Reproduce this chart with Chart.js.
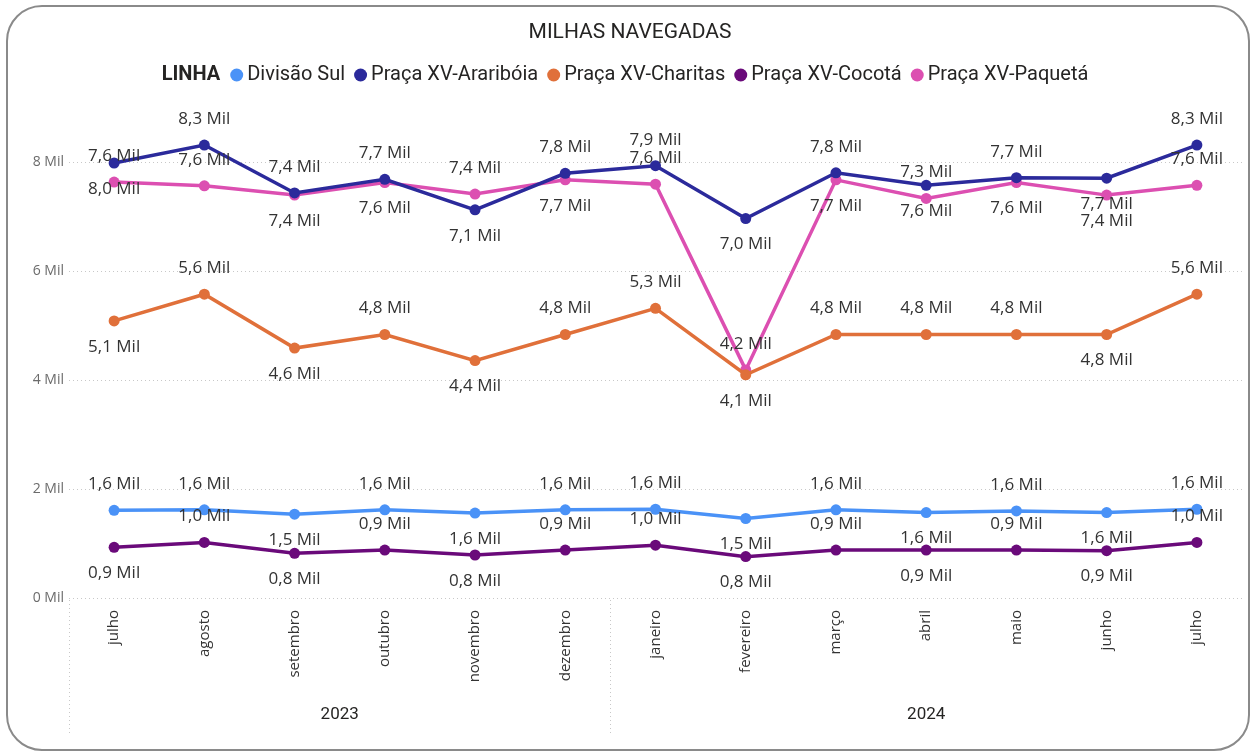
<!DOCTYPE html>
<html>
<head>
<meta charset="utf-8">
<script src="https://cdn.jsdelivr.net/npm/chart.js@4.4.1/dist/chart.umd.min.js"></script>
<style>
  html, body { margin: 0; padding: 0; background: #ffffff; }
  #wrap { position: relative; width: 1250px; height: 753px; }
  #frame { position: absolute; left: 6px; top: 5px; width: 1244px; height: 746px; box-sizing: border-box;
           border: 2px solid #8a8a8a; border-radius: 36px; pointer-events: none; }
</style>
</head>
<body>
<div id="wrap">
  <canvas id="c" width="1250" height="753"></canvas>
  <div id="frame"></div>
</div>
<script>
// ---- Data (values in thousands of miles, "Mil") ----
const months = ['julho','agosto','setembro','outubro','novembro','dezembro','janeiro','fevereiro','março','abril','maio','junho','julho'];
const monthYears = ['2023','2023','2023','2023','2023','2023','2024','2024','2024','2024','2024','2024','2024'];
const years = ['2023','2024'];
const seriesNames = ['Divisão Sul','Praça XV-Araribóia','Praça XV-Charitas','Praça XV-Cocotá','Praça XV-Paquetá'];
const divisaoSul = [1.61,1.62,1.54,1.62,1.56,1.62,1.63,1.46,1.62,1.57,1.60,1.57,1.63];
const arariboia  = [7.99,8.32,7.44,7.69,7.13,7.80,7.94,6.97,7.81,7.58,7.72,7.71,8.32];
const charitas   = [5.09,5.58,4.59,4.84,4.36,4.84,5.32,4.10,4.84,4.84,4.84,4.84,5.58];
const cocota     = [0.93,1.02,0.82,0.88,0.79,0.88,0.97,0.76,0.88,0.88,0.88,0.87,1.02];
const paqueta    = [7.64,7.57,7.40,7.63,7.42,7.68,7.60,4.19,7.68,7.34,7.63,7.40,7.58];
const yTicks = [0,2,4,6,8];
const titleText = 'MILHAS NAVEGADAS';
const legendTitle = 'LINHA';

// ---- Styles ----
const colors = ['#4A92F7','#2B2A9B','#E0703A','#6A0A7A','#DC4FB1'];
// label placement above ('a') or below ('b') each point, per series
const placement = [
  'aababaabababa', // Divisão Sul
  'baaabaabababa', // Araribóia
  'bababaabaaaba', // Charitas
  'bababaabababa', // Cocotá
  'aabbabaababba'  // Paquetá
];
const fmt = v => v.toFixed(1).replace('.', ',') + ' Mil';

const allSeries = [divisaoSul, arariboia, charitas, cocota, paqueta];
const datasets = allSeries.map((d, i) => ({
  label: seriesNames[i],
  data: d,
  borderColor: colors[i],
  backgroundColor: colors[i],
  pointBackgroundColor: colors[i],
  pointBorderColor: colors[i],
  borderWidth: 3.5,
  pointRadius: 5.5,
  pointBorderWidth: 0,
  tension: 0
}));

const decorPlugin = {
  id: 'decor',
  afterDraw(chart) {
    const ctx = chart.ctx;
    ctx.save();
    // Title
    ctx.fillStyle = '#252423';
    ctx.font = '21px Roboto';
    ctx.textAlign = 'center';
    ctx.textBaseline = 'middle';
    ctx.fillText(titleText, 630, 33);

    // Legend
    const ly = 75, r = 6.5, gapMarker = 4, gapItem = 9;
    ctx.font = 'bold 20px Roboto';
    const wTitle = ctx.measureText(legendTitle).width;
    ctx.font = '20px Roboto';
    const wItems = seriesNames.map(n => ctx.measureText(n).width);
    let total = wTitle + 10;
    wItems.forEach(w => total += 2 * r + gapMarker + w + gapItem);
    total -= gapItem;
    let x = 625 - total / 2;
    ctx.textAlign = 'left';
    ctx.font = 'bold 20px Roboto';
    ctx.fillStyle = '#252423';
    ctx.fillText(legendTitle, x, ly);
    x += wTitle + 10;
    ctx.font = '20px Roboto';
    seriesNames.forEach((n, i) => {
      ctx.fillStyle = colors[i];
      ctx.beginPath();
      ctx.arc(x + r, ly, r, 0, Math.PI * 2);
      ctx.fill();
      x += 2 * r + gapMarker;
      ctx.fillStyle = '#252423';
      ctx.fillText(n, x, ly);
      x += wItems[i] + gapItem;
    });

    // Year groups and separators
    const xs = chart.scales.x;
    const area = chart.chartArea;
    const step = xs.getPixelForValue(1) - xs.getPixelForValue(0);
    ctx.strokeStyle = '#c8c8c8';
    ctx.lineWidth = 1;
    ctx.setLineDash([1, 3]);
    const bounds = [];
    years.forEach(y => {
      const idx = monthYears.map((m, k) => m === y ? k : -1).filter(k => k >= 0);
      const left = xs.getPixelForValue(idx[0]) - step / 2;
      const right = xs.getPixelForValue(idx[idx.length - 1]) + step / 2;
      bounds.push([left, right]);
    });
    bounds.forEach(b => {
      const sx = Math.round(b[0]) + 0.5;
      ctx.beginPath();
      ctx.moveTo(sx, area.bottom + 2);
      ctx.lineTo(sx, 735);
      ctx.stroke();
    });
    ctx.setLineDash([]);
    ctx.fillStyle = '#252423';
    ctx.font = '17px Roboto';
    ctx.textAlign = 'center';
    years.forEach((y, i) => {
      ctx.fillText(y, (bounds[i][0] + bounds[i][1]) / 2, 715);
    });
    ctx.restore();
  },
  afterDatasetsDraw(chart) {
    const ctx = chart.ctx;
    ctx.save();
    ctx.font = '17px "Open Sans"';
    ctx.fillStyle = '#333333';
    ctx.textAlign = 'center';
    ctx.textBaseline = 'middle';
    chart.data.datasets.forEach((ds, i) => {
      const meta = chart.getDatasetMeta(i);
      meta.data.forEach((pt, j) => {
        const off = placement[i][j] === 'a' ? -26 : 26;
        ctx.fillText(fmt(ds.data[j]), pt.x, pt.y + off);
      });
    });
    ctx.restore();
  }
};

new Chart(document.getElementById('c'), {
  type: 'line',
  data: { labels: months, datasets },
  options: {
    responsive: false,
    animation: false,
    layout: { padding: { top: 108, right: 8, left: 0, bottom: 0 } },
    plugins: { legend: { display: false }, title: { display: false }, tooltip: { enabled: false } },
    scales: {
      x: {
        offset: true,
        grid: { display: false },
        border: { display: false },
        ticks: {
          minRotation: 90, maxRotation: 90, autoSkip: false,
          color: '#333333', font: { family: 'Open Sans', size: 15 }, padding: 4
        },
        afterFit(s) { s.height = 155; }
      },
      y: {
        min: 0, max: 9,
        afterBuildTicks(s) { s.ticks = yTicks.map(v => ({ value: v })); },
        grid: { color: '#c8c8c8', lineWidth: 1, drawTicks: false },
        border: { display: false, dash: [1, 3] },
        ticks: {
          color: '#6b6b6b', font: { family: 'Open Sans', size: 14 }, padding: 5,
          callback: v => v + ' Mil'
        },
        afterFit(s) { s.width = 69; }
      }
    }
  },
  plugins: [decorPlugin]
});
</script>
</body>
</html>
